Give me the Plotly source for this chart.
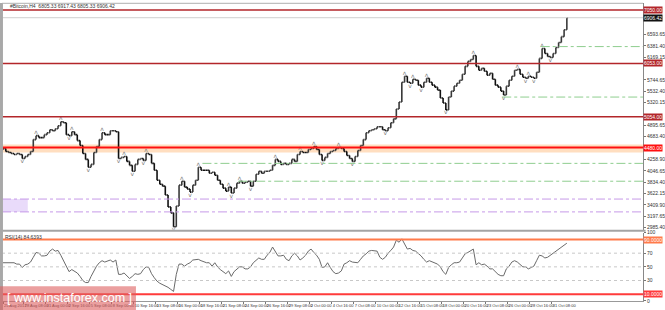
import plotly.graph_objects as go
from datetime import datetime, timedelta

# ---------------- data ----------------
start = datetime(2017, 8, 25, 20)
bar_hours = 8
first_open = 4440.0
closes = [
    4462, 4407, 4388, 4370, 4351, 4370, 4351, 4277, 4314, 4351,
    4407, 4629, 4703, 4666, 4666, 4721, 4758, 4814, 4795, 4832,
    4888, 4962, 4943, 4721, 4703, 4777, 4721, 4610, 4518, 4370,
    4259, 4111, 4166, 4388, 4499, 4629, 4758, 4721, 4721, 4795,
    4795, 4777, 4277, 4296, 4314, 4222, 4148, 4037, 4166, 4259,
    4277, 4240, 4370, 4351, 4185, 4055, 3870, 3796, 3759, 3593,
    3371, 3260, 3001, 3389, 3778, 3852, 3741, 3704, 3648, 3778,
    3870, 4111, 4055, 4055, 4055, 4000, 4018, 3963, 3870, 3796,
    3722, 3667, 3741, 3630, 3722, 3815, 3852, 3815, 3833, 3852,
    3759, 3852, 3981, 4037, 4000, 4037, 4037, 4055, 4148, 4259,
    4222, 4166, 4185, 4166, 4185, 4259, 4222, 4351, 4407, 4388,
    4388, 4444, 4462, 4499, 4444, 4351, 4240, 4296, 4370, 4407,
    4425, 4462, 4481, 4462, 4407, 4333, 4277, 4222, 4314, 4425,
    4518, 4629, 4758, 4795, 4814, 4832, 4869, 4869, 4814, 4795,
    4851, 4943, 5017, 5202, 5332, 5702, 5813, 5702, 5683, 5757,
    5739, 5646, 5609, 5702, 5776, 5702, 5646, 5609, 5554, 5406,
    5313, 5184, 5424, 5535, 5628, 5683, 5739, 5850, 5998, 6090,
    6127, 6201, 5998, 5924, 5961, 5905, 5831, 5868, 5757, 5646,
    5609, 5535, 5461, 5628, 5739, 5813, 5924, 5942, 5850, 5794,
    5776, 5813, 5794, 5776, 5887, 6146, 6331, 6238, 6183, 6164,
    6238, 6349, 6442, 6553, 6682, 6906.42,
]
rsi_values = [
    56, 56, 56, 56, 56, 54, 54, 49, 53, 54,
    57, 64, 71, 70, 66, 66, 67, 73, 76, 73,
    74, 67, 59, 49, 43, 46, 44, 41, 36, 30,
    27, 27, 36, 44, 51, 56, 59, 57, 59, 60,
    57, 60, 39, 39, 41, 37, 33, 36, 40, 39,
    40, 46, 50, 49, 40, 34, 29, 26, 24, 23,
    20, 17, 14, 39, 54, 54, 51, 54, 56, 60,
    61, 61, 59, 57, 56, 56, 51, 56, 50, 46,
    43, 40, 44, 36, 43, 47, 50, 50, 47, 47,
    50, 56, 60, 63, 61, 61, 67, 71, 79, 73,
    66, 66, 67, 61, 59, 66, 70, 66, 60, 63,
    67, 73, 76, 71, 67, 61, 49, 50, 56, 49,
    43, 40, 41, 44, 54, 56, 59, 57, 56, 56,
    61, 66, 69, 73, 74, 73, 73, 64, 61, 64,
    70, 74, 79, 89, 86, 91, 84, 76, 77, 74,
    73, 70, 66, 61, 57, 59, 57, 56, 54, 50,
    43, 39, 49, 53, 56, 56, 57, 63, 69, 71,
    74, 76, 53, 56, 53, 54, 51, 47, 47, 43,
    39, 37, 37, 47, 51, 57, 59, 57, 54, 50,
    50, 47, 49, 51, 59, 67, 66, 63, 64, 67,
    70, 73, 76, 79, 81, 84.64,
]

dark_red_levels = [7050.0, 6053.0, 5054.0]
red_level = 4480.0
red_band = [4388.0, 4536.0]
green_levels = [6367.0, 5424.0, 4185.0, 3851.0]
green_starts = ["2017-10-30 00:00", "2017-10-25 08:00", "2017-09-19 00:00", "2017-09-23 08:00"]
purple_levels = [3518.0, 3278.0]
purple_box_x = ["2017-08-25 17:00", "2017-08-28 20:00"]
rsi_upper, rsi_lower = 90.0, 10.0
rsi_grid = [70, 50, 30]

price_ticks_all = [2985.40, 3197.65, 3409.90, 3622.15, 3834.40, 4046.65, 4258.90,
                   4471.15, 4683.40, 4895.65, 5107.90, 5320.15, 5532.40, 5744.65,
                   5956.90, 6169.15, 6381.40, 6593.65, 6805.90]
rsi_ticks = [100, 70, 50, 30, 0]

x_tickvals = ["2017-08-25 20:00", "2017-08-28 08:00", "2017-08-31 00:00", "2017-09-02 16:00",
              "2017-09-05 08:00", "2017-09-08 00:00", "2017-09-10 16:00", "2017-09-13 08:00",
              "2017-09-16 00:00", "2017-09-18 16:00", "2017-09-21 08:00", "2017-09-24 00:00",
              "2017-09-26 16:00", "2017-09-29 08:00", "2017-10-02 00:00", "2017-10-04 16:00",
              "2017-10-07 08:00", "2017-10-10 00:00", "2017-10-12 16:00", "2017-10-15 08:00",
              "2017-10-18 00:00", "2017-10-20 16:00", "2017-10-23 08:00", "2017-10-26 00:00",
              "2017-10-28 16:00", "2017-10-31 08:00"]
x_ticktext = ["25 Aug 2017", "28 Aug 08:00", "31 Aug 00:00", "2 Sep 16:00", "5 Sep 08:00",
              "8 Sep 00:00", "10 Sep 16:00", "13 Sep 08:00", "16 Sep 00:00", "18 Sep 16:00",
              "21 Sep 08:00", "24 Sep 00:00", "26 Sep 16:00", "29 Sep 08:00", "2 Oct 00:00",
              "4 Oct 16:00", "7 Oct 08:00", "10 Oct 00:00", "12 Oct 16:00", "15 Oct 08:00",
              "18 Oct 00:00", "20 Oct 16:00", "23 Oct 08:00", "26 Oct 00:00", "28 Oct 16:00",
              "31 Oct 08:00"]
x_range = ["2017-08-25 17:00", "2017-11-11 09:30"]
price_range = [2945.0, 7181.5]

title_text = "#Bitcoin,H4  6805.33 6917.43 6805.33 6906.42"
rsi_text = "RSI(14) 84.6393"

# ---------------- derived ----------------
times = [start + timedelta(hours=bar_hours * i) for i in range(len(closes))]
opens = [first_open] + closes[:-1]
highs = [max(o, c) for o, c in zip(opens, closes)]
lows = [min(o, c) for o, c in zip(opens, closes)]
last = closes[-1]

boxed = dark_red_levels + [red_level, last]
price_ticks = [t for t in price_ticks_all if all(abs(t - b) > 115 for b in boxed)]

up_x, up_y, dn_x, dn_y = [], [], [], []
for i in range(2, len(closes) - 2):
    nb = [i - 2, i - 1, i + 1, i + 2]
    if all(closes[i] > closes[j] for j in nb):
        up_x.append(times[i]); up_y.append(closes[i])
    if all(closes[i] < closes[j] for j in nb):
        dn_x.append(times[i]); dn_y.append(closes[i])

FONT = "Liberation Sans, Arial, sans-serif"
NARROW = "Liberation Sans Narrow, Liberation Sans, Arial, sans-serif"
W, H = 665, 310
ML, MR, MT, MB = 2, 17, 0, 9
PH = H - MT - MB  # 301
main_dom = [1 - 229 / PH, 1]
rsi_dom = [0, 69 / PH]

fig = go.Figure()
fig.add_trace(go.Ohlc(
    x=times, open=opens, high=highs, low=lows, close=closes,
    increasing=dict(line=dict(color="#3a3a3a", width=1.6)),
    decreasing=dict(line=dict(color="#111111", width=1.6)),
    tickwidth=0.45,
    xaxis="x", yaxis="y", showlegend=False, hoverinfo="skip",
))
fig.add_trace(go.Scatter(x=up_x, y=up_y, mode="text", text=["ʌ"] * len(up_x),
                         textposition="top center", textfont=dict(size=6, color="#7a7a7a", family="DejaVu Sans"),
                         xaxis="x", yaxis="y", showlegend=False, hoverinfo="skip"))
fig.add_trace(go.Scatter(x=dn_x, y=dn_y, mode="text", text=["v"] * len(dn_x),
                         textposition="bottom center", textfont=dict(size=6, color="#7a7a7a", family="DejaVu Sans"),
                         xaxis="x", yaxis="y", showlegend=False, hoverinfo="skip"))
fig.add_trace(go.Scatter(x=times, y=rsi_values, mode="lines",
                         line=dict(color="#6a6a6a", width=1),
                         xaxis="x", yaxis="y2", showlegend=False, hoverinfo="skip"))

shapes = []
shapes.append(dict(type="rect", xref="paper", yref="y", x0=0, x1=1, y0=red_band[0], y1=red_band[1],
                   fillcolor="rgba(255,190,130,0.5)", line=dict(width=0), layer="below"))
shapes.append(dict(type="rect", xref="x", yref="y", x0=purple_box_x[0], x1=purple_box_x[1],
                   y0=purple_levels[1], y1=purple_levels[0],
                   fillcolor="rgba(215,190,245,0.55)", line=dict(width=0), layer="below"))
shapes.append(dict(type="line", xref="paper", yref="y", x0=0, x1=1, y0=last, y1=last,
                   line=dict(color="#cfcfcf", width=1)))
for lv in dark_red_levels:
    shapes.append(dict(type="line", xref="paper", yref="y", x0=0, x1=1, y0=lv, y1=lv,
                       line=dict(color="#b3262a", width=1.5)))
shapes.append(dict(type="line", xref="paper", yref="y", x0=0, x1=1, y0=red_level, y1=red_level,
                   line=dict(color="#ff1010", width=2)))
for lv, st in zip(green_levels, green_starts):
    shapes.append(dict(type="line", xref="x", yref="y", x0=st, x1=x_range[1], y0=lv, y1=lv,
                       line=dict(color="#8fce8f", width=1, dash="dashdot")))
for lv in purple_levels:
    shapes.append(dict(type="line", xref="paper", yref="y", x0=0, x1=1, y0=lv, y1=lv,
                       line=dict(color="#c69ae8", width=1, dash="dashdot")))
for g in rsi_grid:
    shapes.append(dict(type="line", xref="paper", yref="y2", x0=0, x1=1, y0=g, y1=g,
                       line=dict(color="#c8c8c8", width=1, dash="dot")))
shapes.append(dict(type="line", xref="paper", yref="y2", x0=0, x1=1, y0=rsi_upper, y1=rsi_upper,
                   line=dict(color="#ff7a4a", width=2)))
shapes.append(dict(type="line", xref="paper", yref="y2", x0=0, x1=1, y0=rsi_lower, y1=rsi_lower,
                   line=dict(color="#ff3b3b", width=2)))
shapes.append(dict(type="rect", xref="paper", yref="paper", x0=-ML / 646, x1=1.004,
                   y0=(PH - 231) / PH, y1=(PH - 229) / PH, fillcolor="#a4a4a4", line=dict(width=0)))
shapes.append(dict(type="rect", xref="paper", yref="paper", x0=-ML / 646, x1=0.0015,
                   y0=-MB / PH, y1=1, fillcolor="#a8a8a8", line=dict(width=0)))
shapes.append(dict(type="line", xref="paper", yref="paper", x0=0, x1=1, y0=0.999, y1=0.999,
                   line=dict(color="#b0b0b0", width=1)))
shapes.append(dict(type="rect", xref="paper", yref="paper", x0=-ML / 646, x1=135 / 646,
                   y0=-MB / PH - 0.01, y1=(PH - 286) / PH,
                   fillcolor="rgba(222,95,95,0.6)", line=dict(width=0), layer="above"))

ann = []
ann.append(dict(xref="paper", yref="paper", x=6 / 646, y=1 - 3 / PH, text=title_text,
                showarrow=False, xanchor="left", yanchor="middle",
                font=dict(size=5, color="#333", family=FONT)))
ann.append(dict(xref="paper", yref="paper", x=1.5 / 646, y=(PH - 236) / PH, text=rsi_text,
                showarrow=False, xanchor="left", yanchor="middle",
                font=dict(size=5, color="#333", family=FONT)))


def box(yref, yv, txt, bg, fg="white"):
    return dict(xref="paper", yref=yref, x=1.0, y=yv, text=txt, showarrow=False,
                xanchor="left", yanchor="middle", bgcolor=bg, borderpad=0,
                font=dict(size=5, color=fg, family=FONT))


for lv in dark_red_levels:
    ann.append(box("y", lv, f"{lv:.2f}", "#b3262a"))
ann.append(box("y", red_level, f"{red_level:.2f}", "#ff1010"))
ann.append(box("y", last, f"{last:.2f}", "#111111"))
ann.append(box("y2", rsi_upper, f"{rsi_upper:.4f}", "#ff7a4a"))
ann.append(box("y2", rsi_lower, f"{rsi_lower:.4f}", "#ff3b3b"))
ann.append(dict(xref="paper", yref="paper", x=68 / 646, y=(PH - 298) / PH,
                text="[ www.instaforex.com ]", showarrow=False, xanchor="center", yanchor="middle",
                font=dict(size=12.5, color="white", family=FONT)))

fig.update_layout(
    width=W, height=H, margin=dict(l=ML, r=MR, t=MT, b=MB),
    paper_bgcolor="white", plot_bgcolor="white", showlegend=False,
    shapes=shapes, annotations=ann,
    xaxis=dict(type="date", range=x_range, anchor="y2", rangeslider=dict(visible=False),
               tickvals=x_tickvals, ticktext=x_ticktext, ticklabelposition="outside right",
               tickangle=0, ticks="outside", ticklen=2, tickcolor="#777", showgrid=False,
               zeroline=False, showline=True, linecolor="#999", linewidth=1,
               tickfont=dict(size=4.0, color="#333", family=NARROW)),
    yaxis=dict(domain=main_dom, range=price_range, side="right", anchor="x",
               tickvals=price_ticks, ticktext=[f"{v:.2f}" for v in price_ticks],
               ticks="outside", ticklen=2, tickcolor="#777", showgrid=False, zeroline=False,
               showline=True, linecolor="#888", linewidth=1,
               tickfont=dict(size=5, color="#333", family=FONT)),
    yaxis2=dict(domain=rsi_dom, range=[0, 100], side="right", anchor="x",
                tickvals=rsi_ticks, ticktext=[str(v) for v in rsi_ticks],
                ticks="outside", ticklen=2, tickcolor="#777", showgrid=False, zeroline=False,
                showline=True, linecolor="#888", linewidth=1,
                tickfont=dict(size=5, color="#333", family=FONT)),
)

fig.write_html("out.html")
